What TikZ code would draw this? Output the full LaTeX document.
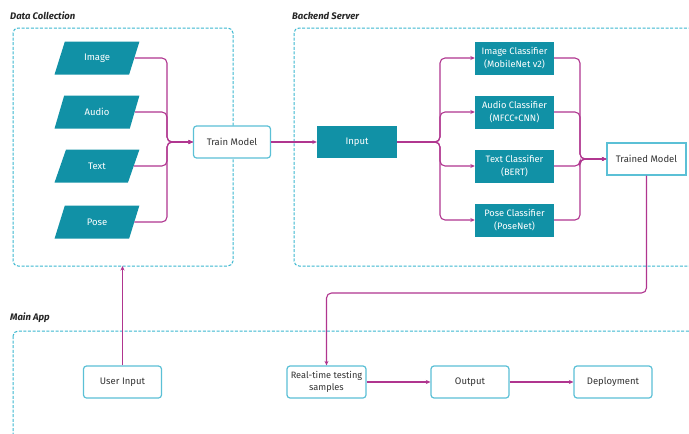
\documentclass[tikz,border=0pt]{standalone}
\usepackage{fontspec}
\setmainfont{Fira Sans}
\usetikzlibrary{arrows.meta,shapes.geometric}
\definecolor{tealfill}{HTML}{1191A6}
\definecolor{magline}{HTML}{B0358F}
\definecolor{dashcyan}{HTML}{3BB8D0}
\definecolor{boxcyan}{HTML}{5BC0D6}
\definecolor{textgray}{HTML}{333333}
\begin{document}
\begin{tikzpicture}[x=1pt,y=-1pt,
  container/.style={draw=dashcyan, line width=1pt, dash pattern=on 3pt off 1.6pt, rounded corners=5pt},
  grouplabel/.style={font=\fontsize{9.5}{11}\selectfont\bfseries\itshape, text=black!85, anchor=west, inner sep=0pt},
  databox/.style={trapezium, trapezium left angle=64, trapezium right angle=116, trapezium stretches=true,
    minimum width=85pt, minimum height=33pt, fill=tealfill, text=white, inner sep=0pt,
    font=\fontsize{9.5}{11}\selectfont},
  fillbox/.style={rectangle, fill=tealfill, text=white, minimum width=79pt, minimum height=33pt,
    inner sep=1pt, align=center, font=\fontsize{9.3}{13}\selectfont},
  whitebox/.style={rectangle, draw=boxcyan, line width=1.2pt, rounded corners=3pt, fill=white,
    text=textgray, minimum width=78pt, minimum height=32pt, inner sep=1pt, align=center,
    font=\fontsize{9.5}{12}\selectfont},
  conn/.style={draw=magline, line width=1.1pt, rounded corners=5pt, -{Stealth[length=4.5pt,width=4pt]}}
]
\useasboundingbox (0,0) rectangle (689,434);
\clip (0,0) rectangle (689,434);
\fill[white] (0,0) rectangle (689,434);

% containers
\draw[container] (13,28) rectangle (233,266);
\draw[container] (294,28) rectangle (730,266);
\draw[container] (13,331) rectangle (730,480);
\node[grouplabel] (lblDC) at (10,16) {Data Collection};
\node[grouplabel] (lblBS) at (292,16) {Backend Server};
\node[grouplabel] (lblMA) at (10,318) {Main App};
\coordinate (dcB) at (122.5,266);

% data nodes
\node[databox] (img) at (97,58) {Image};
\node[databox] (aud) at (97,112) {Audio};
\node[databox] (txt) at (97,166) {Text};
\node[databox] (pos) at (97,222) {Pose};

\node[whitebox, minimum width=77pt] (train) at (232,142) {Train Model};
\node[fillbox, minimum width=80pt, minimum height=32pt, font=\fontsize{9.5}{12}\selectfont] (input) at (357,142) {Input};

\node[fillbox] (ic) at (514.5,58) {Image Classifier\\(MobileNet v2)};
\node[fillbox] (ac) at (514.5,112) {Audio Classifier\\(MFCC+CNN)};
\node[fillbox] (tc) at (514.5,166) {Text Classifier\\(BERT)};
\node[fillbox] (pc) at (514.5,220) {Pose Classifier\\(PoseNet)};

\node[whitebox, rounded corners=0pt, minimum width=79pt] (tm) at (646.5,159) {Trained Model};

\node[whitebox] (ui) at (122.5,382) {User Input};
\node[whitebox, minimum width=79pt, font=\fontsize{9.2}{12}\selectfont] (rt) at (326.5,382) {Real-time testing\\samples};
\node[whitebox] (out) at (470,382) {Output};
\node[whitebox] (dep) at (613,382) {Deployment};

% junctions
\coordinate (jL) at (167,142);
\coordinate (jB) at (440,142);
\coordinate (jM) at (580,159);
\coordinate (cT) at (646.5,293);

% connectors
\draw[conn] (img.east) -| (jL) -- (train.west);
\draw[conn] (aud.east) -| (jL) -- (train.west);
\draw[conn] (txt.east) -| (jL) -- (train.west);
\draw[conn] (pos.east) -| (jL) -- (train.west);

\draw[conn] (train.east) -- (input.west);

\draw[conn] (input.east) -- (jB) |- (ic.west);
\draw[conn] (input.east) -- (jB) |- (ac.west);
\draw[conn] (input.east) -- (jB) |- (tc.west);
\draw[conn] (input.east) -- (jB) |- (pc.west);

\draw[conn] (ic.east) -| (jM) -- (tm.west);
\draw[conn] (ac.east) -| (jM) -- (tm.west);
\draw[conn] (tc.east) -| (jM) -- (tm.west);
\draw[conn] (pc.east) -| (jM) -- (tm.west);

\draw[conn] (tm.south) -- (cT) -| (rt.north);

\draw[conn] (ui.north) -- (dcB);
\draw[conn] (rt.east) -- (out.west);
\draw[conn] (out.east) -- (dep.west);
\end{tikzpicture}
\end{document}
